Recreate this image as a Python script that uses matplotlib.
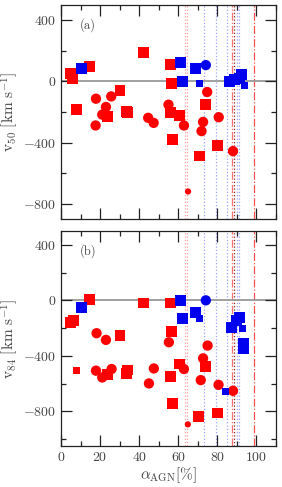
import matplotlib
matplotlib.use("Agg")
import matplotlib.pyplot as plt
from matplotlib.ticker import MultipleLocator

plt.rcParams['font.family'] = ['cmr10', 'DejaVu Serif']
plt.rcParams['mathtext.fontset'] = 'cm'
plt.rcParams['axes.formatter.use_mathtext'] = True

# ---------------- data: panel (a) v50 ----------------
a_rsq_x = [5.1, 6.0, 7.7, 14.5, 23.7, 30.2, 33.6, 34.2, 42.4, 56.0, 56.2, 56.7, 57.1, 60.8, 70.7, 73.9, 80.2]
a_rsq_y = [50, 17, -185, 98, -228, -58, -195, -202, 189, 109, -206, -15, -380, -223, -488, -150, -417]
a_rsq_s = [62] * 17

a_rci_x = [17.9, 25.7, 23.0, 21.1, 17.7, 44.6, 47.4, 55.0, 62.9, 74.8, 72.7, 71.9, 80.7, 88.0, 65.0]
a_rci_y = [-113, -98, -167, -217, -288, -238, -271, -152, -288, -69, -265, -325, -234, -456, -720]
a_rci_s = [55] * 14 + [20]

a_bsq_x = [10.6, 61.3, 62.0, 68.8, 70.7, 86.4, 88.9, 91.5, 92.3, 93.7]
a_bsq_y = [87, 126, -2, 87, -15, -2, 11, 20, 43, -28]
a_bsq_s = [62, 62, 62, 62, 25, 62, 62, 62, 62, 25]

a_bci_x = [74.1]
a_bci_y = [107]
a_bci_s = [55]

# ---------------- data: panel (b) v84 ----------------
b_rsq_x = [5.1, 6.6, 7.7, 14.5, 23.7, 30.2, 33.6, 34.2, 42.4, 56.0, 56.2, 56.7, 57.1, 60.8, 70.5, 73.9, 80.2]
b_rsq_y = [-160, -148, -507, 5, -536, -254, -527, -502, -19, -19, -548, -222, -744, -459, -836, -478, -812]
b_rsq_s = [62, 62, 25] + [62] * 14

b_rci_x = [18.2, 23.0, 17.9, 21.1, 25.9, 45.0, 47.5, 55.2, 62.9, 72.7, 75.0, 71.5, 80.6, 88.0, 64.9]
b_rci_y = [-237, -285, -507, -556, -495, -599, -491, -302, -495, -418, -326, -575, -609, -652, -894]
b_rci_s = [55] * 14 + [20]

b_bsq_x = [10.6, 61.3, 62.0, 68.8, 71.0, 87.2, 89.8, 91.5, 92.8, 93.5, 93.5, 84.0]
b_bsq_y = [-53, 0, -133, -85, -133, -198, -145, -125, -204, -310, -350, -657]
b_bsq_s = [62, 62, 62, 62, 25, 62, 62, 62, 25, 62, 62, 25]

b_bci_x = [74.1]
b_bci_y = [0]
b_bci_s = [55]

# vertical reference lines
vl_pos = [63.4, 64.5, 73.1, 79.2, 84.7, 87.5, 88.6, 89.9, 91.0, 98.8]
vl_col = ['#ffa0a0', '#ffa0a0', '#a0a0ff', '#a0a0ff', '#a0a0ff', '#ff7070', '#902020', '#a0a0ff', '#a0a0ff', '#ff5050']
vl_ls = [':', ':', ':', ':', ':', '-.', ':', ':', ':', '-.']

RED = '#ff0000'
BLUE = '#0000ee'
TXT = '#444444'

fig = plt.figure(figsize=(2.82, 4.87), dpi=100)
ax1 = fig.add_axes([0.2163, 0.5503, 0.7624, 0.4394])
ax2 = fig.add_axes([0.2163, 0.0842, 0.7624, 0.4415])

panels = [
    (ax1, (a_rsq_x, a_rsq_y, a_rsq_s), (a_rci_x, a_rci_y, a_rci_s), (a_bsq_x, a_bsq_y, a_bsq_s),
     (a_bci_x, a_bci_y, a_bci_s), (-900, 500), r'$\mathrm{v}_{50}\ [\mathrm{km\ s}^{-1}]$', '(a)'),
    (ax2, (b_rsq_x, b_rsq_y, b_rsq_s), (b_rci_x, b_rci_y, b_rci_s), (b_bsq_x, b_bsq_y, b_bsq_s),
     (b_bci_x, b_bci_y, b_bci_s), (-1050, 500), r'$\mathrm{v}_{84}\ [\mathrm{km\ s}^{-1}]$', '(b)'),
]

for ax, rsq, rci, bsq, bci, ylim, ylab, tag in panels:
    for p, c, ls in zip(vl_pos, vl_col, vl_ls):
        ax.axvline(p, color=c, ls=ls, lw=0.9, zorder=1)
    ax.axhline(0, color='#999999', lw=1.3, zorder=1)
    ax.scatter(rsq[0], rsq[1], s=rsq[2], marker='s', color=RED, edgecolors='none', zorder=3)
    ax.scatter(rci[0], rci[1], s=rci[2], marker='o', color=RED, edgecolors='none', zorder=3)
    ax.scatter(bsq[0], bsq[1], s=bsq[2], marker='s', color=BLUE, edgecolors='none', zorder=3)
    ax.scatter(bci[0], bci[1], s=bci[2], marker='o', color=BLUE, edgecolors='none', zorder=3)
    ax.set_xlim(0, 110)
    ax.set_ylim(*ylim)
    ax.xaxis.set_major_locator(MultipleLocator(20))
    ax.xaxis.set_minor_locator(MultipleLocator(10))
    ax.yaxis.set_major_locator(MultipleLocator(400))
    ax.yaxis.set_minor_locator(MultipleLocator(200))
    ax.tick_params(which='both', direction='in', top=True, right=True, labelsize=10,
                   labelcolor=TXT, color='#222222', width=0.9)
    ax.tick_params(which='major', length=8)
    ax.tick_params(which='minor', length=3.5)
    for sp in ax.spines.values():
        sp.set_color('#222222')
        sp.set_linewidth(0.9)
    ax.set_ylabel(ylab, fontsize=11, color=TXT, labelpad=2)
    ax.text(0.085, 0.905, tag, transform=ax.transAxes, fontsize=9, color=TXT, ha='left', va='center')

ax1.tick_params(labelbottom=False)
ax2.set_xlabel(r'$\alpha_{\mathrm{AGN}}[\%]$', fontsize=11, color=TXT, labelpad=1)

fig.savefig('out.png', dpi=100)
